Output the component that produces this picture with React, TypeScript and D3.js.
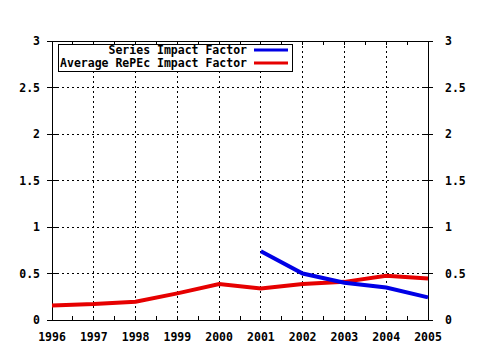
import { useRef, useEffect } from 'react'
import * as d3 from 'd3'

const W = 480
const H = 350
const years = [1996, 1997, 1998, 1999, 2000, 2001, 2002, 2003, 2004, 2005]
const averageRepec = [0.157, 0.171, 0.196, 0.286, 0.386, 0.34, 0.386, 0.41, 0.475, 0.447]
const seriesYears = [2001, 2002, 2003, 2004, 2005]
const seriesImpact = [0.74, 0.5, 0.4, 0.35, 0.243]
const yTicks = [0, 0.5, 1, 1.5, 2, 2.5, 3]
const yTickLabels = ['0', '0.5', '1', '1.5', '2', '2.5', '3']
const legendNames = ['Series Impact Factor', 'Average RePEc Impact Factor']
const legendColors = ['#0000e6', '#e60000']

const margin = { top: 41, right: 52, bottom: 30, left: 52 }
const font = '"DejaVu Sans Mono", monospace'

const App = () => {
  const svgRef = useRef<SVGSVGElement>(null)

  useEffect(() => {
    const svg = d3.select(svgRef.current)
    svg.selectAll('*').remove()

    const x = d3.scaleLinear().domain([1996, 2005]).range([margin.left, W - margin.right])
    const y = d3.scaleLinear().domain([0, 3]).range([H - margin.bottom, margin.top])
    const [x0, x1] = x.range()
    const [y0, y1] = y.range()

    svg.append('rect').attr('width', W).attr('height', H).attr('fill', '#fff')

    // grid
    const grid = svg.append('g').attr('stroke', '#000').attr('stroke-dasharray', '2,3').attr('shape-rendering', 'crispEdges')
    grid.selectAll('.vg').data(years.slice(1, -1)).join('line')
      .attr('x1', d => x(d)).attr('x2', d => x(d)).attr('y1', y1).attr('y2', y0)
    grid.selectAll('.hg').data(yTicks.slice(1, -1)).join('line')
      .attr('x1', x0).attr('x2', x1).attr('y1', d => y(d)).attr('y2', d => y(d))

    // frame
    svg.append('rect').attr('x', x0).attr('y', y1).attr('width', x1 - x0).attr('height', y0 - y1)
      .attr('fill', 'none').attr('stroke', '#000').attr('shape-rendering', 'crispEdges')

    // ticks
    const ticks = svg.append('g').attr('stroke', '#000').attr('shape-rendering', 'crispEdges')
    const halfYears = d3.range(1996, 2005.01, 0.5)
    ticks.selectAll('.bt').data(halfYears).join('line')
      .attr('x1', d => x(d)).attr('x2', d => x(d)).attr('y1', y0).attr('y2', y0 - 4)
    ticks.selectAll('.tt').data(halfYears).join('line')
      .attr('x1', d => x(d)).attr('x2', d => x(d)).attr('y1', y1).attr('y2', y1 + 4)
    ticks.selectAll('.lt').data(yTicks).join('line')
      .attr('x1', x0 - 5).attr('x2', x0 + 5).attr('y1', d => y(d)).attr('y2', d => y(d))
    ticks.selectAll('.rt').data(yTicks).join('line')
      .attr('x1', x1 - 5).attr('x2', x1 + 5).attr('y1', d => y(d)).attr('y2', d => y(d))

    const labels = svg.append('g').attr('font-family', font).attr('font-weight', 'bold').attr('font-size', 11.5).attr('fill', '#000')
    labels.selectAll('.xl').data(years).join('text')
      .attr('x', d => x(d)).attr('y', y0 + 21).attr('text-anchor', 'middle').text(d => d)
    labels.selectAll('.yl').data(yTicks).join('text')
      .attr('x', x0 - 12).attr('y', d => y(d) + 4).attr('text-anchor', 'end').text((_, i) => yTickLabels[i])
    labels.selectAll('.yr').data(yTicks).join('text')
      .attr('x', x1 + 17).attr('y', d => y(d) + 4).attr('text-anchor', 'start').text((_, i) => yTickLabels[i])

    const ln = d3.line<[number, number]>().x(d => x(d[0])).y(d => y(d[1]))
    svg.append('path').datum(years.map((yr, i) => [yr, averageRepec[i]] as [number, number]))
      .attr('d', ln).attr('fill', 'none').attr('stroke', legendColors[1]).attr('stroke-width', 4)
    svg.append('path').datum(seriesYears.map((yr, i) => [yr, seriesImpact[i]] as [number, number]))
      .attr('d', ln).attr('fill', 'none').attr('stroke', legendColors[0]).attr('stroke-width', 4)

    // legend
    const lg = svg.append('g')
    lg.append('rect').attr('x', 58).attr('y', 44).attr('width', 234).attr('height', 27)
      .attr('fill', '#fff').attr('stroke', '#000').attr('shape-rendering', 'crispEdges')
    legendNames.forEach((name, i) => {
      const ly = 50 + i * 13
      lg.append('text').attr('x', 247).attr('y', ly + 4).attr('text-anchor', 'end')
        .attr('font-family', font).attr('font-weight', 'bold').attr('font-size', 11.5).text(name)
      lg.append('line').attr('x1', 254).attr('x2', 288).attr('y1', ly).attr('y2', ly)
        .attr('stroke', legendColors[i]).attr('stroke-width', 3)
    })
  }, [])

  return (
    <svg ref={svgRef} width={W} height={H} style={{ position: 'absolute', left: 0, top: 0 }} />
  )
}

export default App
